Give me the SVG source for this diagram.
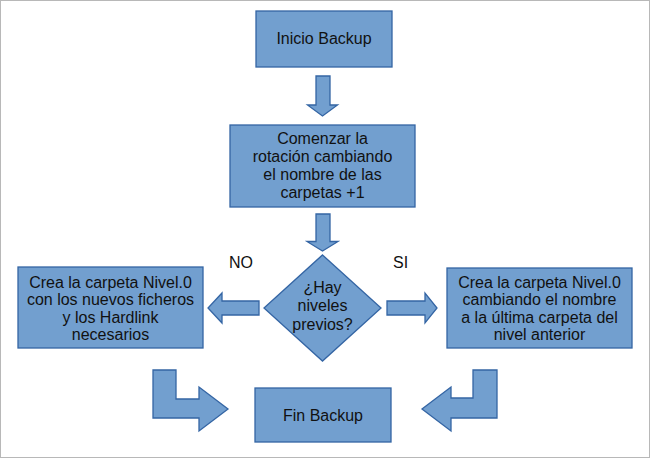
<svg xmlns="http://www.w3.org/2000/svg" width="650" height="458" viewBox="0 0 650 458">
<style>
.shape{fill:#729fcf;stroke:#3465a4;stroke-width:1.3}
.t{font-family:"Liberation Sans",Arial,sans-serif;font-size:16px;fill:#111;text-anchor:middle}
.lbl{font-family:"Liberation Sans",Arial,sans-serif;font-size:16px;fill:#111}
</style>
<rect x="0.5" y="0.5" width="649" height="457" fill="#fff" stroke="#b8b8b8" stroke-width="1"/>
<g id="connectors">
<polygon class="shape" points="316,76 330,76 330,105 337.5,105 322.5,116 307.5,105 316,105"/>
<polygon class="shape" points="316,214 330,214 330,241.5 338,241.5 322.5,251 307,241.5 316,241.5"/>
<polygon class="shape" points="259,301 259,315 222,315 222,323 208,308 222,293 222,301"/>
<polygon class="shape" points="387,301 425,301 425,293 437,308 425,323 425,315 387,315"/>
<polygon class="shape" points="153,370 176,370 176,399 199,399 199,387 228,409 199,431 199,418 153,418"/>
<polygon class="shape" points="497,370 473,370 473,398 451,398 451,387 422,409 451,431 451,418 497,418"/>
</g>
<g id="inicio">
<rect class="shape" x="256" y="11" width="136" height="56"/>
<text class="t" x="324" y="44">Inicio Backup</text>
</g>
<g id="comenzar">
<rect class="shape" x="230" y="125" width="185" height="82"/>
<text class="t" x="322.5" y="144">Comenzar la</text>
<text class="t" x="322.5" y="162">rotación cambiando</text>
<text class="t" x="322.5" y="180">el nombre de las</text>
<text class="t" x="322.5" y="198">carpetas +1</text>
</g>
<g id="decision">
<polygon class="shape" points="322.5,255 381,308 322.5,361 264,308"/>
<text class="t" x="322.5" y="292.5">¿Hay</text>
<text class="t" x="322.5" y="311">niveles</text>
<text class="t" x="322.5" y="329.5">previos?</text>
</g>
<g id="label-no"><text class="lbl" x="229" y="268">NO</text></g>
<g id="label-si"><text class="lbl" x="393" y="268">SI</text></g>
<g id="crea-no">
<rect class="shape" x="18" y="267" width="185" height="81"/>
<text class="t" x="110.5" y="287.5">Crea la carpeta Nivel.0</text>
<text class="t" x="110.5" y="305">con los nuevos ficheros</text>
<text class="t" x="110.5" y="322.5">y los Hardlink</text>
<text class="t" x="110.5" y="340">necesarios</text>
</g>
<g id="crea-si">
<rect class="shape" x="447" y="268" width="185" height="80"/>
<text class="t" x="539.5" y="287.5">Crea la carpeta Nivel.0</text>
<text class="t" x="539.5" y="305">cambiando el nombre</text>
<text class="t" x="539.5" y="322.5">a la última carpeta del</text>
<text class="t" x="539.5" y="340">nivel anterior</text>
</g>
<g id="fin">
<rect class="shape" x="255" y="388" width="136" height="54"/>
<text class="t" x="323" y="421">Fin Backup</text>
</g>
</svg>
